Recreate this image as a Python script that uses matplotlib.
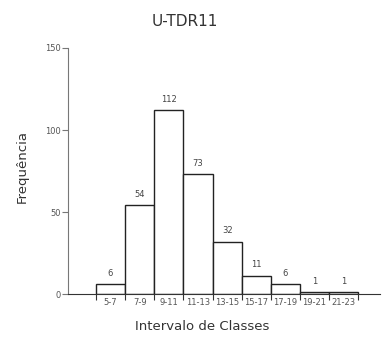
import matplotlib
matplotlib.use("Agg")
import matplotlib.pyplot as plt
import numpy as np

categories = ["5-7", "7-9", "9-11", "11-13", "13-15", "15-17", "17-19", "19-21", "21-23"]
values = [6, 54, 112, 73, 32, 11, 6, 1, 1]
yticks = [0, 50, 100, 150]

fig = plt.figure(figsize=(3.83, 3.38), dpi=100)
ax = fig.add_axes([0.1775, 0.130, 0.815, 0.728])
x = np.arange(len(categories))
ax.bar(x + 0.5, values, width=1.0, color="white", edgecolor="#222222", linewidth=1.0)
for xi, v in zip(x, values):
    ax.text(xi + 0.5, v + 4, str(v), ha="center", va="bottom", fontsize=6, color="#444444")

ax.set_xlim(-0.96, 9.75)
ax.set_ylim(0, 150)
ax.spines["top"].set_visible(False)
ax.spines["right"].set_visible(False)
ax.spines["left"].set_color("#777777")
ax.spines["bottom"].set_color("#333333")
ax.spines["left"].set_bounds(0, 150)

ax.set_xticks(np.arange(len(categories) + 1))
ax.set_xticklabels([])
ax.set_xticks(x + 0.5, minor=True)
ax.set_xticklabels(categories, minor=True, fontsize=6, color="#555555")
ax.tick_params(axis="x", which="major", length=4, direction="out", color="#333333", width=0.8)
ax.tick_params(axis="x", which="minor", length=0, pad=3)

ax.set_yticks(yticks)
ax.set_yticklabels([str(t) for t in yticks], fontsize=6, color="#555555")
ax.tick_params(axis="y", length=4, direction="out", color="#777777", width=0.8, pad=1)

ax.set_title("U-TDR11", fontsize=11, color="#333333", x=0.375, pad=16)
ax.set_xlabel("Intervalo de Classes", fontsize=9.5, color="#333333", labelpad=8)
ax.xaxis.set_label_coords(0.43, -0.105)
ax.set_ylabel("Frequência", fontsize=9.5, color="#333333")
ax.yaxis.set_label_coords(-0.125, 0.52)

fig.savefig("out.png", dpi=100)
